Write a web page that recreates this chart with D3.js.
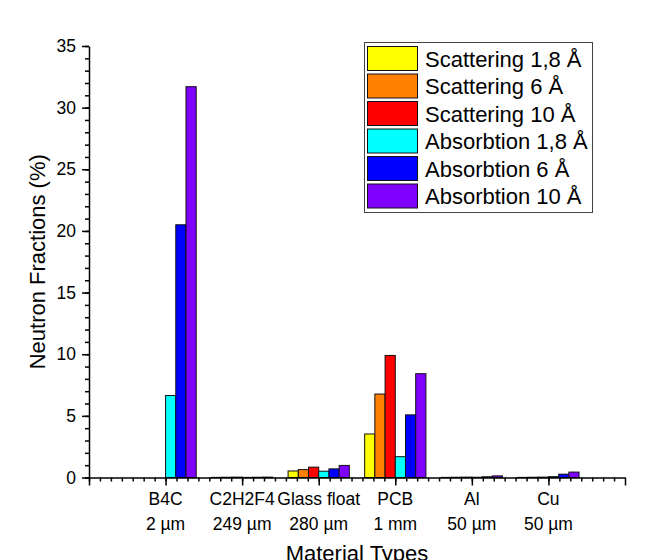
<!DOCTYPE html>
<html>
<head>
<meta charset="utf-8">
<script src="https://cdn.jsdelivr.net/npm/d3@7"></script>
<style>
  body { margin: 0; background: #fff; }
  text { font-family: "Liberation Sans", Arial, sans-serif; fill: #000; }
</style>
</head>
<body>
<script>
// categories and their thickness (second label line)
const categories = ["B4C", "C2H2F4", "Glass float", "PCB", "Al", "Cu"];
const thickness = ["2 µm", "249 µm", "280 µm", "1 mm", "50 µm", "50 µm"];

// series values (%)
const scattering18 = [0, 0.01, 0.53, 3.53, 0.01, 0.01];
const scattering6 = [0, 0.02, 0.64, 6.77, 0.02, 0.02];
const scattering10 = [0, 0.03, 0.84, 9.9, 0.03, 0.03];
const absorbtion18 = [6.65, 0.01, 0.51, 1.69, 0.02, 0.07];
const absorbtion6 = [20.5, 0.02, 0.7, 5.08, 0.06, 0.27];
const absorbtion10 = [31.7, 0.03, 0.98, 8.42, 0.13, 0.44];

const seriesNames = ["Scattering 1,8 Å", "Scattering 6 Å", "Scattering 10 Å",
                     "Absorbtion 1,8 Å", "Absorbtion 6 Å", "Absorbtion 10 Å"];
const seriesValues = [scattering18, scattering6, scattering10, absorbtion18, absorbtion6, absorbtion10];
const seriesColors = ["#ffff00", "#ff8000", "#ff0000", "#00ffff", "#0000ff", "#8000ff"];

const yTicks = [0, 5, 10, 15, 20, 25, 30, 35];

const w = 659, h = 560;
const svg = d3.select("body").append("svg")
    .attr("width", w)
    .attr("height", h);

// scales
const x = d3.scaleLinear().domain([0, 7]).range([89, 625]);
const y = d3.scaleLinear().domain([0, 35]).range([477.5, 46]);
const step = x(1) - x(0);
const inner = d3.scaleBand()
    .domain(d3.range(seriesNames.length))
    .range([-step * 0.4, step * 0.4])
    .padding(0);

// bars
const flat = [];
seriesValues.forEach((vals, s) => {
    vals.forEach((v, c) => flat.push({ s: s, c: c, v: v }));
});
svg.append("g").selectAll("rect")
    .data(flat)
    .enter()
    .append("rect")
    .attr("x", d => x(d.c + 1) + inner(d.s))
    .attr("width", inner.bandwidth())
    .attr("y", d => y(d.v))
    .attr("height", d => y(0) - y(d.v))
    .attr("fill", d => seriesColors[d.s])
    .attr("stroke", "#111")
    .attr("stroke-width", 1);

// x axis: minor ticks then major ticks
const xMinor = d3.range(0, 49).map(i => i / 7);
svg.append("g")
    .attr("transform", "translate(0," + y(0) + ")")
    .call(d3.axisBottom(x).tickValues(xMinor).tickSize(4).tickSizeOuter(0).tickFormat(""))
    .call(g => g.select(".domain").remove());
const xAxis = svg.append("g")
    .attr("transform", "translate(0," + y(0) + ")")
    .call(d3.axisBottom(x).tickValues(d3.range(0, 8)).tickSize(8).tickSizeOuter(0).tickFormat(""));

// category labels, two lines
const catLabels = svg.append("g");
categories.forEach((c, i) => {
    const t = catLabels.append("text")
        .attr("x", x(i + 1))
        .attr("y", 505)
        .attr("text-anchor", "middle")
        .style("font-size", "17.5px");
    t.append("tspan").attr("x", x(i + 1)).text(c);
    t.append("tspan").attr("x", x(i + 1)).attr("dy", 25).text(thickness[i]);
});

// y axis
const yMinor = d3.range(0, 36);
svg.append("g")
    .attr("transform", "translate(" + x(0) + ",0)")
    .call(d3.axisLeft(y).tickValues(yMinor).tickSize(4).tickSizeOuter(0).tickFormat(""))
    .call(g => g.select(".domain").remove());
const yAxis = svg.append("g")
    .attr("transform", "translate(" + x(0) + ",0)")
    .call(d3.axisLeft(y).tickValues(yTicks).tickSize(7).tickSizeOuter(0).tickPadding(6));
yAxis.selectAll("text").style("font-size", "17.5px");

svg.selectAll(".domain, .tick line").attr("stroke", "#000").attr("stroke-width", 1.5);

// axis titles
svg.append("text")
    .attr("transform", "translate(45," + ((y(0) + y(35)) / 2) + ") rotate(-90)")
    .attr("text-anchor", "middle")
    .style("font-size", "22px")
    .text("Neutron Fractions (%)");
svg.append("text")
    .attr("x", (x(0) + x(7)) / 2)
    .attr("y", 561)
    .attr("text-anchor", "middle")
    .style("font-size", "22px")
    .text("Material Types");

// legend
const legend = svg.append("g");
legend.append("rect")
    .attr("x", 364.5).attr("y", 42.5)
    .attr("width", 228).attr("height", 170)
    .attr("fill", "#fff")
    .attr("stroke", "#444")
    .attr("stroke-width", 1);
seriesNames.forEach((name, i) => {
    const yy = 46.5 + i * 27.5;
    legend.append("rect")
        .attr("x", 367.5).attr("y", yy)
        .attr("width", 50).attr("height", 24)
        .attr("fill", seriesColors[i])
        .attr("stroke", "#111");
    legend.append("text")
        .attr("x", 425)
        .attr("y", yy + 20)
        .style("font-size", "22px")
        .text(name);
});
</script>
</body>
</html>
